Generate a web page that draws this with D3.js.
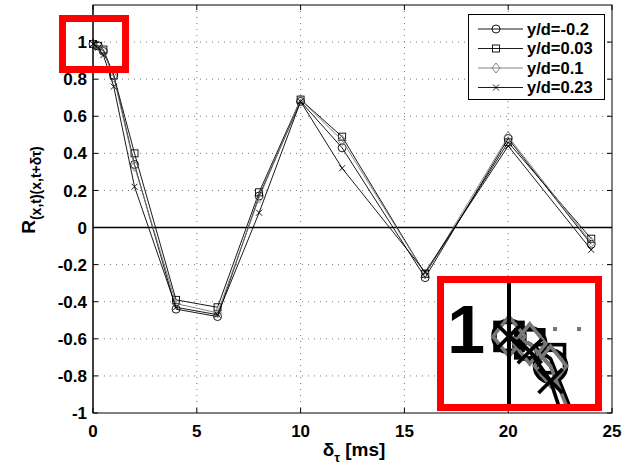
<!DOCTYPE html>
<html><head><meta charset="utf-8">
<script src="https://cdn.jsdelivr.net/npm/d3@7"></script>
<style>body{margin:0;background:#fff}svg{display:block}</style>
</head><body>
<svg id="c" width="633" height="470"></svg>
<script>
const tau = [0, 0.25, 0.5, 1, 2, 4, 6, 8, 10, 12, 16, 20, 24];
const seriesNames = ["y/d=-0.2", "y/d=0.03", "y/d=0.1", "y/d=0.23"];
const sCircle  = [0.99, 0.98, 0.95, 0.82, 0.34, -0.44, -0.48, 0.17, 0.68, 0.43, -0.27, 0.48, -0.09];
const sSquare  = [0.99, 0.98, 0.96, 0.82, 0.40, -0.39, -0.43, 0.19, 0.69, 0.49, -0.25, 0.46, -0.06];
const sDiamond = [0.99, 0.98, 0.95, 0.81, 0.33, -0.41, -0.46, 0.16, 0.69, 0.47, -0.25, 0.49, -0.08];
const sCross   = [0.99, 0.97, 0.93, 0.76, 0.22, -0.43, -0.47, 0.08, 0.68, 0.32, -0.24, 0.44, -0.12];
const xTicks = [0, 5, 10, 15, 20, 25];
const yTicks = [-1, -0.8, -0.6, -0.4, -0.2, 0, 0.2, 0.4, 0.6, 0.8, 1];

const series = [
  {name: seriesNames[0], values: sCircle, marker: "circle", color: "#000"},
  {name: seriesNames[1], values: sSquare, marker: "square", color: "#000"},
  {name: seriesNames[2], values: sDiamond, marker: "diamond", color: "#777"},
  {name: seriesNames[3], values: sCross, marker: "cross", color: "#000"}
];

const L = 93, R = 612, T = 5, B = 413;
const x = d3.scaleLinear().domain([0, 25]).range([L, R]);
const y = d3.scaleLinear().domain([-1, 1.2]).range([B, T]);
const svg = d3.select("#c");
const FONT = "'Liberation Sans', Arial, sans-serif";
const FS = 17;

function markerPath(g, type, cx, cy, color, sw) {
  if (type === "circle") {
    g.append("circle").attr("cx", cx).attr("cy", cy).attr("r", 4)
      .attr("fill", "none").attr("stroke", color).attr("stroke-width", sw);
  } else if (type === "square") {
    g.append("rect").attr("x", cx - 3.5).attr("y", cy - 3.5).attr("width", 7).attr("height", 7)
      .attr("fill", "none").attr("stroke", color).attr("stroke-width", sw);
  } else if (type === "diamond") {
    g.append("path").attr("d", `M${cx},${cy-5}L${cx+4},${cy}L${cx},${cy+5}L${cx-4},${cy}Z`)
      .attr("fill", "none").attr("stroke", color).attr("stroke-width", sw);
  } else {
    g.append("path").attr("d", `M${cx-3},${cy-3}L${cx+3},${cy+3}M${cx-3},${cy+3}L${cx+3},${cy-3}`)
      .attr("fill", "none").attr("stroke", color).attr("stroke-width", sw);
  }
}

function drawContent(g, isInset) {
  // grid
  xTicks.slice(1, -1).forEach(t => g.append("line").attr("x1", x(t)).attr("x2", x(t)).attr("y1", T).attr("y2", B)
    .attr("stroke", "#777").attr("stroke-width", 1).attr("stroke-dasharray", "1,5"));
  yTicks.forEach(t => { if (t === -1) return; g.append("line").attr("x1", L).attr("x2", R).attr("y1", y(t)).attr("y2", y(t))
    .attr("stroke", "#777").attr("stroke-width", 1).attr("stroke-dasharray", "1,5").attr("stroke-dashoffset", -5); });
  // zero line
  g.append("line").attr("x1", L).attr("x2", R).attr("y1", y(0)).attr("y2", y(0))
    .attr("stroke", "#000").attr("stroke-width", 1.5);
  // data
  const line = d3.line().x((d, i) => x(tau[i])).y(d => y(d));
  series.forEach(s => {
    g.append("path").attr("d", line(s.values)).attr("fill", "none")
      .attr("stroke", s.color).attr("stroke-width", 0.9);
    s.values.forEach((v, i) => markerPath(g, s.marker, x(tau[i]), y(v), s.color, 0.9));
  });
  // left axis line
  g.append("line").attr("x1", L).attr("x2", L).attr("y1", T).attr("y2", B).attr("stroke", "#000").attr("stroke-width", 1);
  if (isInset) {
    g.append("text").attr("x", L - 6).attr("y", y(1)).attr("dy", "0.36em").attr("text-anchor", "end")
      .attr("font-family", FONT).attr("font-weight", "bold").attr("font-size", FS).text("1");
  }
}

// main plot
const main = svg.append("g");
drawContent(main, false);
main.append("rect").attr("x", L).attr("y", T).attr("width", R - L).attr("height", B - T)
  .attr("fill", "none").attr("stroke", "#000").attr("stroke-width", 1);
xTicks.forEach(t => {
  main.append("line").attr("x1", x(t)).attr("x2", x(t)).attr("y1", B).attr("y2", B - 5).attr("stroke", "#000");
  main.append("line").attr("x1", x(t)).attr("x2", x(t)).attr("y1", T).attr("y2", T + 5).attr("stroke", "#000");
  main.append("text").attr("x", x(t)).attr("y", B + 24).attr("text-anchor", "middle")
    .attr("font-family", FONT).attr("font-weight", "bold").attr("font-size", FS).text(t);
});
yTicks.forEach(t => {
  main.append("line").attr("x1", L).attr("x2", L + 5).attr("y1", y(t)).attr("y2", y(t)).attr("stroke", "#000");
  main.append("line").attr("x1", R).attr("x2", R - 5).attr("y1", y(t)).attr("y2", y(t)).attr("stroke", "#000");
  main.append("text").attr("x", L - 6).attr("y", y(t)).attr("dy", "0.36em").attr("text-anchor", "end")
    .attr("font-family", FONT).attr("font-weight", "bold").attr("font-size", FS).text(t);
});

// axis labels
const xl = main.append("text").attr("x", 354).attr("y", 456).attr("text-anchor", "middle")
  .attr("font-family", FONT).attr("font-weight", "bold").attr("font-size", 19);
xl.append("tspan").text("δ");
xl.append("tspan").attr("dy", 6).attr("font-size", 13).text("τ");
xl.append("tspan").attr("dy", -6).text(" [ms]");

const yl = main.append("text").attr("transform", "translate(35,190) rotate(-90)").attr("text-anchor", "middle")
  .attr("font-family", FONT).attr("font-weight", "bold").attr("font-size", 19);
yl.append("tspan").text("R");
yl.append("tspan").attr("dy", 6).attr("font-size", 14).text("(x,t)(x,t+δτ)");

// legend
const lg = main.append("g");
lg.append("rect").attr("x", 468.5).attr("y", 14.5).attr("width", 136).attr("height", 85)
  .attr("fill", "#fff").attr("stroke", "#000").attr("stroke-width", 1);
series.forEach((s, i) => {
  const yy = 29 + i * 19.5;
  lg.append("line").attr("x1", 478).attr("x2", 523).attr("y1", yy).attr("y2", yy).attr("stroke", s.color).attr("stroke-width", 0.9);
  markerPath(lg, s.marker, 496, yy, s.color, 0.9);
  lg.append("text").attr("x", 527).attr("y", yy).attr("dy", "0.36em")
    .attr("font-family", FONT).attr("font-weight", "bold").attr("font-size", 16.5).text(s.name);
});

// inset (magnified view of the top-left region)
const defs = svg.append("defs");
defs.append("clipPath").attr("id", "insetClip").append("rect")
  .attr("x", 444).attr("y", 283).attr("width", 151).attr("height", 121);
svg.append("rect").attr("x", 444).attr("y", 283).attr("width", 151).attr("height", 121).attr("fill", "#fff");
const s = 4;
const inset = svg.append("g").attr("clip-path", "url(#insetClip)")
  .append("g").attr("transform", `translate(${509 - s * L},${329 - s * y(1)}) scale(${s})`);
drawContent(inset, true);

// red boxes
svg.append("rect").attr("x", 62.5).attr("y", 18.5).attr("width", 63).attr("height", 51)
  .attr("fill", "none").attr("stroke", "#f00").attr("stroke-width", 7);
svg.append("rect").attr("x", 440.5).attr("y", 279.5).attr("width", 158).attr("height", 128)
  .attr("fill", "none").attr("stroke", "#f00").attr("stroke-width", 7);
</script>
</body></html>
